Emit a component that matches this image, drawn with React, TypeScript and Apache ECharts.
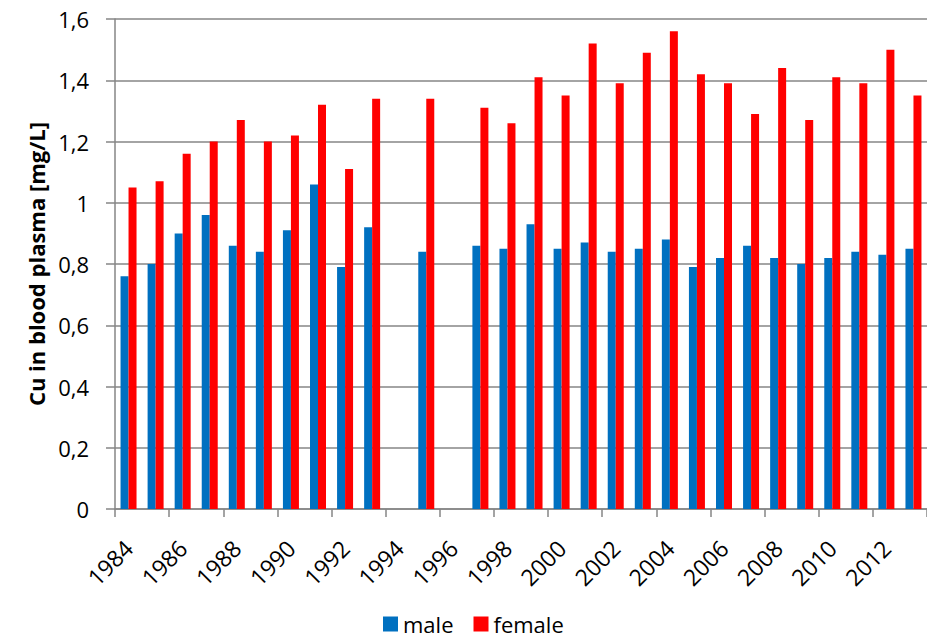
import React, { useEffect, useRef } from "react";
import * as echarts from "echarts";

const years = [
  "1984", "1985", "1986", "1987", "1988", "1989", "1990", "1991", "1992", "1993",
  "1994", "1995", "1996", "1997", "1998", "1999", "2000", "2001", "2002", "2003",
  "2004", "2005", "2006", "2007", "2008", "2009", "2010", "2011", "2012", "2013",
];
const male = [
  0.76, 0.8, 0.9, 0.96, 0.86, 0.84, 0.91, 1.06, 0.79, 0.92,
  null, 0.84, null, 0.86, 0.85, 0.93, 0.85, 0.87, 0.84, 0.85,
  0.88, 0.79, 0.82, 0.86, 0.82, 0.8, 0.82, 0.84, 0.83, 0.85,
];
const female = [
  1.05, 1.07, 1.16, 1.2, 1.27, 1.2, 1.22, 1.32, 1.11, 1.34,
  null, 1.34, null, 1.31, 1.26, 1.41, 1.35, 1.52, 1.39, 1.49,
  1.56, 1.42, 1.39, 1.29, 1.44, 1.27, 1.41, 1.39, 1.5, 1.35,
];

const FONT = "'Open Sans', Lato, sans-serif";

export default function App() {
  const ref = useRef<HTMLDivElement>(null);
  useEffect(() => {
    if (!ref.current) return;
    const chart = echarts.init(ref.current, undefined, { renderer: "svg" });
    chart.setOption({
      animation: false,
      textStyle: { fontFamily: FONT },
      grid: { left: 115, right: 0, top: 19, bottom: 131 },
      legend: {
        top: 611,
        left: 378,
        padding: [0, 5, 0, 5],
        itemWidth: 15,
        itemHeight: 15,
        itemGap: 20,
        icon: "rect",
        textStyle: { fontSize: 22, lineHeight: 26, color: "#000", fontFamily: FONT },
        data: ["male", "female"],
      },
      xAxis: {
        type: "category",
        data: years,
        axisLine: { lineStyle: { color: "#868686", width: 1.5 } },
        axisTick: { show: true, length: 8, lineStyle: { color: "#868686", width: 1.5 } },
        axisLabel: {
          interval: 1,
          rotate: 45,
          fontSize: 23,
          color: "#000",
          margin: 35,
          fontFamily: FONT,
        },
      },
      yAxis: {
        type: "value",
        min: 0,
        max: 1.6,
        interval: 0.2,
        name: "Cu in blood plasma [mg/L]",
        nameLocation: "middle",
        nameGap: 68,
        nameTextStyle: { fontSize: 22, fontWeight: "bold", color: "#000", fontFamily: FONT },
        axisLine: { show: true, lineStyle: { color: "#868686", width: 1.5 } },
        axisTick: { show: true, inside: false, length: 9, lineStyle: { color: "#868686", width: 1.5 } },
        splitLine: { show: true, lineStyle: { color: "#868686", width: 1.5 } },
        axisLabel: {
          fontSize: 22,
          color: "#000",
          margin: 26,
          fontFamily: FONT,
          formatter: (v: number) => String(Math.round(v * 10) / 10).replace(".", ","),
        },
      },
      series: [
        {
          name: "male",
          type: "bar",
          data: male,
          barWidth: 8,
          barGap: "0%",
          itemStyle: { color: "#0070C0" },
        },
        {
          name: "female",
          type: "bar",
          data: female,
          barWidth: 8,
          barGap: "0%",
          itemStyle: { color: "#FF0000" },
        },
      ],
    });
    return () => chart.dispose();
  }, []);
  return <div ref={ref} style={{ width: 927, height: 640, position: "absolute", left: 0, top: 0 }} />;
}
